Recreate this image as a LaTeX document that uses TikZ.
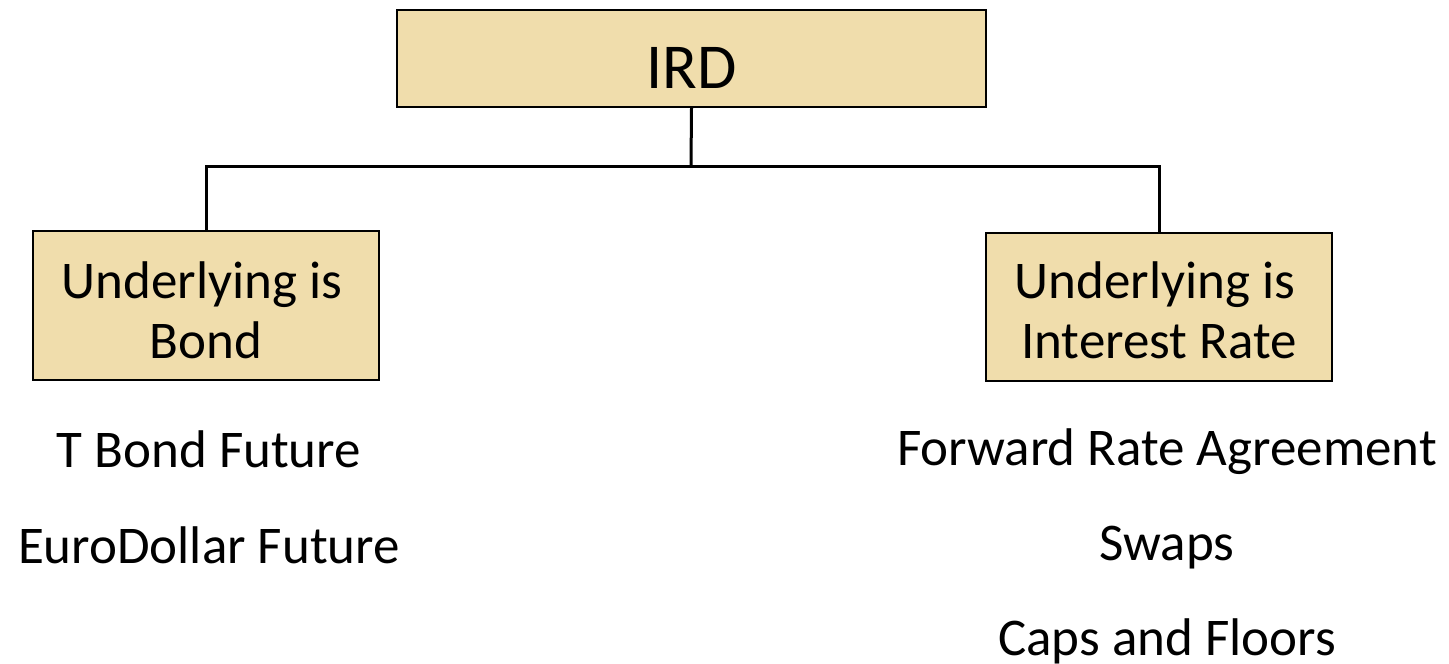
\documentclass[tikz,border=0pt]{standalone}
\usepackage{fontspec}
\setmainfont{Carlito}
\definecolor{papyrus}{RGB}{240,221,172}
\begin{document}
\begin{tikzpicture}[x=1pt,y=-1pt,
  box/.style={draw=black, line width=2pt, fill=papyrus, inner sep=0pt},
  lbl/.style={anchor=base, inner sep=0pt, font=\fontsize{53}{60}\selectfont},
  conn/.style={line width=3pt, line cap=rect}]
\useasboundingbox (0,0) rectangle (1449,664);
% boxes
\node[box, minimum width=589pt, minimum height=97pt] (ird) at (691.5,58.5) {};
\node[box, minimum width=346pt, minimum height=149pt] (bond) at (206,305.5) {};
\node[box, minimum width=346pt, minimum height=148pt] (rate) at (1159,307) {};
% box texts
\node[lbl, font=\fontsize{64}{72}\selectfont] (irdt) at (691.5,88) {IRD};
\node[lbl] (b1) at (202,298) {Underlying is};
\node[lbl] (b2) at (206,358) {Bond};
\node[lbl] (r1) at (1155,298) {Underlying is};
\node[lbl] (r2) at (1159,358) {Interest Rate};
% lists
\node[lbl] (t1) at (209,467) {T Bond Future};
\node[lbl] (t2) at (209,563) {EuroDollar Future};
\node[lbl] (t3) at (1167,465) {Forward Rate Agreement};
\node[lbl] (t4) at (1167,560) {Swaps};
\node[lbl] (t5) at (1167,655) {Caps and Floors};
% connectors
\coordinate (j) at (691,166);
\draw[conn] (ird.south) -- (j);
\draw[conn] (bond.north) |- (j) -| (rate.north);
\end{tikzpicture}
\end{document}
